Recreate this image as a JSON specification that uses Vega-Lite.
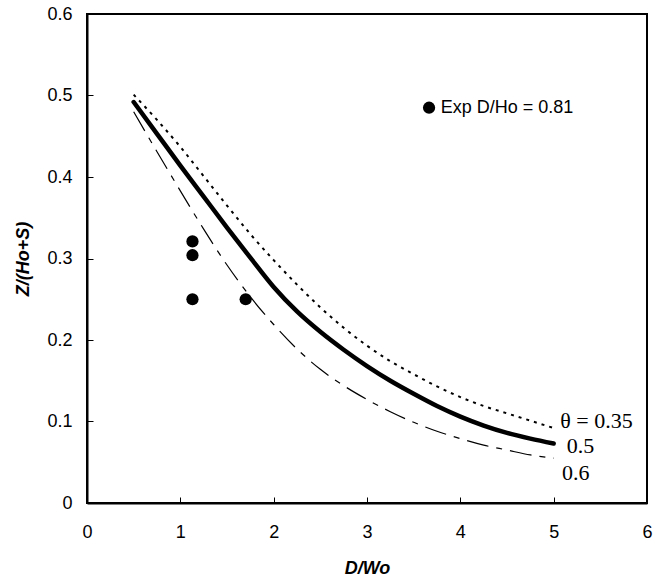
{
  "$schema": "https://vega.github.io/schema/vega-lite/v6.json",
  "autosize": {"type": "none"},
  "padding": {"left": 87, "top": 14, "right": 8, "bottom": 77},
  "width": 560,
  "height": 489,
  "background": "white",
  "config": {
    "view": {"stroke": "black", "strokeWidth": 2},
    "axis": {
      "grid": false,
      "domainColor": "black",
      "domainWidth": 2,
      "tickColor": "black",
      "tickWidth": 1,
      "tickSize": -6,
      "labelFlush": false,
      "labelFont": "Liberation Sans",
      "labelFontSize": 18,
      "labelColor": "black",
      "titleFont": "Liberation Sans",
      "titleFontSize": 18,
      "titleFontWeight": "bold",
      "titleFontStyle": "italic",
      "titleColor": "black"
    }
  },
  "datasets": {
    "curves": [
      {"D_Wo": 0.5, "Z": 0.501, "theta": "0.35"},
      {"D_Wo": 0.75, "Z": 0.470, "theta": "0.35"},
      {"D_Wo": 1.0, "Z": 0.437, "theta": "0.35"},
      {"D_Wo": 1.25, "Z": 0.401, "theta": "0.35"},
      {"D_Wo": 1.5, "Z": 0.365, "theta": "0.35"},
      {"D_Wo": 1.75, "Z": 0.330, "theta": "0.35"},
      {"D_Wo": 2.0, "Z": 0.298, "theta": "0.35"},
      {"D_Wo": 2.25, "Z": 0.268, "theta": "0.35"},
      {"D_Wo": 2.5, "Z": 0.240, "theta": "0.35"},
      {"D_Wo": 2.75, "Z": 0.215, "theta": "0.35"},
      {"D_Wo": 3.0, "Z": 0.193, "theta": "0.35"},
      {"D_Wo": 3.25, "Z": 0.174, "theta": "0.35"},
      {"D_Wo": 3.5, "Z": 0.158, "theta": "0.35"},
      {"D_Wo": 3.75, "Z": 0.143, "theta": "0.35"},
      {"D_Wo": 4.0, "Z": 0.130, "theta": "0.35"},
      {"D_Wo": 4.25, "Z": 0.119, "theta": "0.35"},
      {"D_Wo": 4.5, "Z": 0.110, "theta": "0.35"},
      {"D_Wo": 4.75, "Z": 0.101, "theta": "0.35"},
      {"D_Wo": 5.0, "Z": 0.092, "theta": "0.35"},
      {"D_Wo": 0.5, "Z": 0.492, "theta": "0.5"},
      {"D_Wo": 0.75, "Z": 0.453, "theta": "0.5"},
      {"D_Wo": 1.0, "Z": 0.414, "theta": "0.5"},
      {"D_Wo": 1.25, "Z": 0.376, "theta": "0.5"},
      {"D_Wo": 1.5, "Z": 0.338, "theta": "0.5"},
      {"D_Wo": 1.75, "Z": 0.301, "theta": "0.5"},
      {"D_Wo": 2.0, "Z": 0.265, "theta": "0.5"},
      {"D_Wo": 2.25, "Z": 0.235, "theta": "0.5"},
      {"D_Wo": 2.5, "Z": 0.210, "theta": "0.5"},
      {"D_Wo": 2.75, "Z": 0.188, "theta": "0.5"},
      {"D_Wo": 3.0, "Z": 0.168, "theta": "0.5"},
      {"D_Wo": 3.25, "Z": 0.150, "theta": "0.5"},
      {"D_Wo": 3.5, "Z": 0.134, "theta": "0.5"},
      {"D_Wo": 3.75, "Z": 0.119, "theta": "0.5"},
      {"D_Wo": 4.0, "Z": 0.106, "theta": "0.5"},
      {"D_Wo": 4.25, "Z": 0.095, "theta": "0.5"},
      {"D_Wo": 4.5, "Z": 0.086, "theta": "0.5"},
      {"D_Wo": 4.75, "Z": 0.079, "theta": "0.5"},
      {"D_Wo": 5.0, "Z": 0.073, "theta": "0.5"},
      {"D_Wo": 0.5, "Z": 0.480, "theta": "0.6"},
      {"D_Wo": 0.75, "Z": 0.431, "theta": "0.6"},
      {"D_Wo": 1.0, "Z": 0.383, "theta": "0.6"},
      {"D_Wo": 1.25, "Z": 0.336, "theta": "0.6"},
      {"D_Wo": 1.5, "Z": 0.292, "theta": "0.6"},
      {"D_Wo": 1.75, "Z": 0.253, "theta": "0.6"},
      {"D_Wo": 2.0, "Z": 0.219, "theta": "0.6"},
      {"D_Wo": 2.25, "Z": 0.189, "theta": "0.6"},
      {"D_Wo": 2.5, "Z": 0.164, "theta": "0.6"},
      {"D_Wo": 2.75, "Z": 0.144, "theta": "0.6"},
      {"D_Wo": 3.0, "Z": 0.127, "theta": "0.6"},
      {"D_Wo": 3.25, "Z": 0.112, "theta": "0.6"},
      {"D_Wo": 3.5, "Z": 0.099, "theta": "0.6"},
      {"D_Wo": 3.75, "Z": 0.088, "theta": "0.6"},
      {"D_Wo": 4.0, "Z": 0.079, "theta": "0.6"},
      {"D_Wo": 4.25, "Z": 0.071, "theta": "0.6"},
      {"D_Wo": 4.5, "Z": 0.065, "theta": "0.6"},
      {"D_Wo": 4.75, "Z": 0.059, "theta": "0.6"},
      {"D_Wo": 5.0, "Z": 0.055, "theta": "0.6"}
    ],
    "exp": [
      {"D_Wo": 1.13, "Z": 0.321},
      {"D_Wo": 1.13, "Z": 0.304},
      {"D_Wo": 1.13, "Z": 0.250},
      {"D_Wo": 1.70, "Z": 0.250}
    ],
    "legend": [
      {"D_Wo": 3.665, "Z": 0.485, "label": "Exp D/Ho = 0.81", "tx": 3.79}
    ],
    "labels": [
      {"D_Wo": 5.07, "Z": 0.092, "label": "θ = 0.35"},
      {"D_Wo": 5.14, "Z": 0.061, "label": "0.5"},
      {"D_Wo": 5.09, "Z": 0.028, "label": "0.6"}
    ]
  },
  "layer": [
    {
      "data": {"name": "curves"},
      "transform": [{"filter": "datum.theta == '0.35'"}],
      "mark": {"type": "line", "color": "black", "strokeWidth": 2, "strokeDash": [3, 5], "interpolate": "monotone"},
      "encoding": {
        "x": {"field": "D_Wo", "type": "quantitative", "scale": {"domain": [0, 6], "nice": false}, "axis": {"title": "D/Wo", "values": [0, 1, 2, 3, 4, 5, 6], "format": "~g", "labelPadding": 26, "titlePadding": 18}},
        "y": {"field": "Z", "type": "quantitative", "scale": {"domain": [0, 0.6], "nice": false}, "axis": {"title": "Z/(Ho+S)", "values": [0, 0.1, 0.2, 0.3, 0.4, 0.5, 0.6], "format": "~g", "labelPadding": 21, "titlePadding": 14}}
      }
    },
    {
      "data": {"name": "curves"},
      "transform": [{"filter": "datum.theta == '0.5'"}],
      "mark": {"type": "line", "color": "black", "strokeWidth": 4.5, "strokeCap": "round", "interpolate": "monotone"},
      "encoding": {
        "x": {"field": "D_Wo", "type": "quantitative"},
        "y": {"field": "Z", "type": "quantitative"}
      }
    },
    {
      "data": {"name": "curves"},
      "transform": [{"filter": "datum.theta == '0.6'"}],
      "mark": {"type": "line", "color": "black", "strokeWidth": 1.2, "strokeDash": [22, 8, 6, 8], "interpolate": "monotone"},
      "encoding": {
        "x": {"field": "D_Wo", "type": "quantitative"},
        "y": {"field": "Z", "type": "quantitative"}
      }
    },
    {
      "data": {"name": "exp"},
      "mark": {"type": "point", "filled": true, "color": "black", "opacity": 1, "size": 150},
      "encoding": {
        "x": {"field": "D_Wo", "type": "quantitative"},
        "y": {"field": "Z", "type": "quantitative"}
      }
    },
    {
      "data": {"name": "legend"},
      "mark": {"type": "point", "filled": true, "color": "black", "opacity": 1, "size": 150},
      "encoding": {
        "x": {"field": "D_Wo", "type": "quantitative"},
        "y": {"field": "Z", "type": "quantitative"}
      }
    },
    {
      "data": {"name": "legend"},
      "mark": {"type": "text", "align": "left", "baseline": "middle", "font": "Liberation Sans", "fontSize": 18, "color": "black"},
      "encoding": {
        "x": {"field": "tx", "type": "quantitative"},
        "y": {"field": "Z", "type": "quantitative"},
        "text": {"field": "label"}
      }
    },
    {
      "data": {"name": "labels"},
      "mark": {"type": "text", "align": "left", "baseline": "alphabetic", "font": "Liberation Serif", "fontSize": 22, "color": "black"},
      "encoding": {
        "x": {"field": "D_Wo", "type": "quantitative"},
        "y": {"field": "Z", "type": "quantitative"},
        "text": {"field": "label"}
      }
    }
  ]
}
